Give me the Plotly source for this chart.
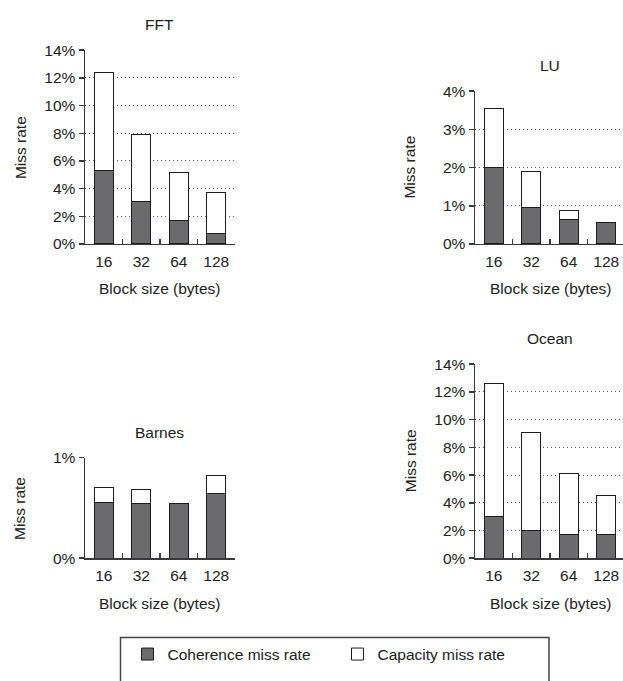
import plotly.graph_objects as go

W, H = 623, 681

block_sizes = ["16", "32", "64", "128"]

fft_coherence = [5.3, 3.1, 1.7, 0.75]
fft_capacity = [7.1, 4.8, 3.5, 3.0]

lu_coherence = [2.0, 0.95, 0.63, 0.57]
lu_capacity = [1.55, 0.95, 0.25, 0.0]

barnes_coherence = [0.55, 0.54, 0.54, 0.64]
barnes_capacity = [0.15, 0.14, 0.0, 0.18]

ocean_coherence = [3.0, 2.0, 1.7, 1.7]
ocean_capacity = [9.6, 7.1, 4.45, 2.85]

panel_titles = ["FFT", "LU", "Barnes", "Ocean"]
y_title = "Miss rate"
x_title = "Block size (bytes)"
series_names = ["Coherence miss rate", "Capacity miss rate"]

FONT = "Liberation Sans, Arial, Helvetica, sans-serif"
FS = 15.5
TXT = "#222222"
COH_FILL = "#6b6b6e"
CAP_FILL = "#ffffff"
EDGE = "#1e1e1e"
AXC = "#3a3a3a"
GRID = "#555555"


def px_x(p):
    return p / W


def px_y(p):
    return 1 - p / H


# panel geometry in pixels
panels = [
    dict(x0=85, x1=235, yt=42.3, yb=241, ymax=14, dtick=2, xr=3.5),
    dict(x0=475, x1=623, yt=84.3, yb=241, ymax=4, dtick=1, xr=3.447),
    dict(x0=85, x1=235, yt=460, yb=563.3, ymax=1, dtick=1, xr=3.5),
    dict(x0=475, x1=623, yt=364.3, yb=563.3, ymax=14, dtick=2, xr=3.447),
]
data = [
    (fft_coherence, fft_capacity),
    (lu_coherence, lu_capacity),
    (barnes_coherence, barnes_capacity),
    (ocean_coherence, ocean_capacity),
]

fig = go.Figure()
layout = {}
annotations = []

for i, (p, (coh, cap)) in enumerate(zip(panels, data)):
    n = "" if i == 0 else str(i + 1)
    xa, ya = "x" + n, "y" + n
    fig.add_trace(go.Bar(
        x=block_sizes, y=coh, xaxis=xa, yaxis=ya, name=series_names[0],
        marker=dict(color=COH_FILL, line=dict(color=EDGE, width=1)),
        showlegend=(i == 0), legend="legend", width=0.5,
    ))
    fig.add_trace(go.Bar(
        x=block_sizes, y=cap, xaxis=xa, yaxis=ya, name=series_names[1],
        marker=dict(color=CAP_FILL, line=dict(color=EDGE, width=1)),
        showlegend=(i == 0), legend="legend2", width=0.5,
    ))
    layout["xaxis" + n] = dict(
        domain=[px_x(p["x0"]), px_x(p["x1"])], anchor=ya, type="category",
        range=[-0.5, p["xr"]], showline=True, linecolor=AXC, linewidth=1.5,
        ticks="inside", ticklen=5, tickcolor=AXC, tickwidth=1.5,
        tickson="boundaries", showgrid=False, zeroline=False,
        tickfont=dict(family=FONT, size=FS, color=TXT), ticklabelstandoff=3,
        fixedrange=True,
    )
    layout["yaxis" + n] = dict(
        domain=[px_y(p["yb"]), px_y(p["yt"])], anchor=xa,
        range=[0, p["ymax"]], dtick=p["dtick"], tick0=0, ticksuffix="%",
        showline=True, linecolor=AXC, linewidth=1.5,
        ticks="outside", ticklen=5, tickcolor=AXC, tickwidth=1.5,
        showgrid=True, gridcolor=GRID, gridwidth=1, griddash="1px,3px",
        zeroline=False, tickfont=dict(family=FONT, size=FS, color=TXT),
        fixedrange=True,
    )
    xc = p["x0"] + 75
    annotations.append(dict(
        text=panel_titles[i], x=px_x(xc), y=px_y(p["yt"] - 26),
        xref="paper", yref="paper", showarrow=False,
        xanchor="center", yanchor="middle",
        font=dict(family=FONT, size=FS, color=TXT)))
    annotations.append(dict(
        text=x_title, x=px_x(xc), y=px_y(p["yb"] + 46),
        xref="paper", yref="paper", showarrow=False,
        xanchor="center", yanchor="middle",
        font=dict(family=FONT, size=FS, color=TXT)))
    annotations.append(dict(
        text=y_title, x=px_x(p["x0"] - 65), y=px_y((p["yt"] + p["yb"]) / 2),
        xref="paper", yref="paper", showarrow=False, textangle=-90,
        xanchor="center", yanchor="middle",
        font=dict(family=FONT, size=FS, color=TXT)))

fig.update_layout(
    **layout,
    annotations=annotations,
    barmode="stack",
    width=W, height=H,
    margin=dict(l=0, r=0, t=0, b=0),
    paper_bgcolor="white", plot_bgcolor="white",
    font=dict(family=FONT, size=FS, color=TXT),
    legend=dict(x=px_x(127.5), y=px_y(662), xanchor="left", yanchor="middle",
                bgcolor="rgba(0,0,0,0)", borderwidth=0,
                font=dict(family=FONT, size=FS, color=TXT)),
    legend2=dict(x=px_x(337.5), y=px_y(662), xanchor="left", yanchor="middle",
                 bgcolor="rgba(0,0,0,0)", borderwidth=0,
                 font=dict(family=FONT, size=FS, color=TXT)),
    shapes=[dict(type="rect", xref="paper", yref="paper",
                 x0=px_x(120.5), x1=px_x(549), y0=-0.05, y1=px_y(644.5),
                 line=dict(color="#444444", width=1.5), fillcolor="rgba(0,0,0,0)")],
)

fig.write_html(
    "out.html",
    config={"staticPlot": True, "displayModeBar": False},
    post_script="document.body.style.margin='0';document.body.style.overflow='hidden';",
)
